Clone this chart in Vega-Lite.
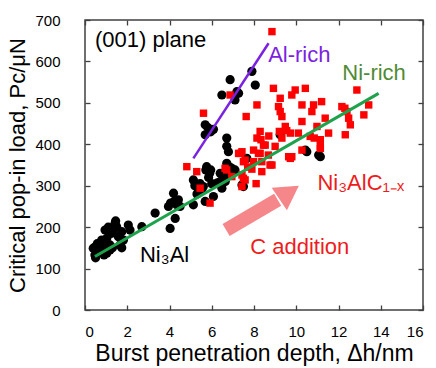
{
  "$schema": "https://vega.github.io/schema/vega-lite/v6.json",
  "width": 338,
  "height": 290,
  "autosize": {"type": "none"},
  "padding": {"left": 85, "top": 20, "right": 13, "bottom": 58},
  "config": {
    "font": "Liberation Sans",
    "view": {"stroke": "#404040", "strokeWidth": 1.5},
    "axis": {
      "grid": false, "domain": false, "tickSize": -5, "tickColor": "#404040", "tickWidth": 1.3,
      "labelFont": "Liberation Sans", "labelFontSize": 15, "labelColor": "#000000",
      "titleFont": "Liberation Sans", "titleFontSize": 22, "titleFontWeight": "normal", "titleColor": "#000000"
    }
  },
  "datasets": {
    "ni3al": [
      {"x":0.39,"y":149},{"x":0.47,"y":133},{"x":0.47,"y":152},{"x":0.5,"y":126},{"x":0.63,"y":141},{"x":0.79,"y":169},{"x":0.87,"y":153},{"x":0.95,"y":165},{"x":0.95,"y":193},{"x":1.03,"y":173},{"x":1.03,"y":137},{"x":1.18,"y":157},{"x":1.18,"y":145},{"x":1.26,"y":185},{"x":1.34,"y":193},{"x":1.42,"y":209},{"x":1.45,"y":215},{"x":1.5,"y":201},{"x":1.58,"y":177},{"x":1.66,"y":157},{"x":1.74,"y":189},{"x":1.74,"y":150},{"x":1.82,"y":169},{"x":2.05,"y":205},{"x":2.13,"y":193},{"x":0.58,"y":160},{"x":1.1,"y":200},{"x":1.3,"y":150},{"x":0.9,"y":133},
      {"x":2.69,"y":201},{"x":3.32,"y":234},{"x":3.95,"y":250},{"x":4.03,"y":197},{"x":4.19,"y":282},{"x":4.27,"y":221},{"x":4.34,"y":254},{"x":4.5,"y":250},{"x":4.42,"y":266},{"x":4.05,"y":258},{"x":4.22,"y":262},
      {"x":5.13,"y":254},{"x":5.13,"y":314},{"x":5.37,"y":290},{"x":5.45,"y":305},{"x":5.53,"y":290},{"x":5.69,"y":262},{"x":5.76,"y":346},{"x":5.72,"y":338},{"x":5.85,"y":320},{"x":5.9,"y":330},{"x":6.08,"y":274},{"x":5.95,"y":338},{"x":6.0,"y":305},{"x":6.24,"y":306},{"x":6.4,"y":310},{"x":6.4,"y":330},{"x":6.48,"y":294},{"x":6.55,"y":318},{"x":6.71,"y":326},{"x":6.71,"y":354},{"x":6.85,"y":345},{"x":7.1,"y":338},{"x":7.5,"y":298},{"x":7.43,"y":302},{"x":5.3,"y":280},{"x":5.6,"y":298},{"x":5.2,"y":300},{"x":6.64,"y":310},
      {"x":5.69,"y":423},{"x":5.95,"y":430},{"x":6.71,"y":415},{"x":6.79,"y":382},{"x":6.71,"y":395},{"x":5.69,"y":447},{"x":6.08,"y":436},{"x":5.82,"y":440},{"x":6.48,"y":519},{"x":6.87,"y":556},{"x":7.1,"y":507},{"x":7.19,"y":527},{"x":7.27,"y":523},{"x":7.9,"y":576},{"x":8.06,"y":543},{"x":6.95,"y":342},{"x":7.66,"y":366},
      {"x":9.24,"y":423},{"x":10.43,"y":386},{"x":10.5,"y":382},{"x":11.06,"y":374},{"x":11.14,"y":370}
    ],
    "ni3alc": [
      {"x":4.82,"y":346},{"x":5.29,"y":334},{"x":5.45,"y":294},{"x":5.92,"y":258},{"x":5.61,"y":475},{"x":6.87,"y":519},{"x":7.63,"y":467},{"x":6.63,"y":342},{"x":6.71,"y":338},{"x":6.95,"y":322},{"x":7.27,"y":378},{"x":7.35,"y":378},{"x":7.43,"y":382},{"x":7.43,"y":326},{"x":7.43,"y":298},{"x":7.5,"y":358},{"x":7.5,"y":318},{"x":7.58,"y":362},{"x":7.58,"y":314},{"x":7.98,"y":386},{"x":7.98,"y":358},{"x":8.14,"y":495},{"x":8.14,"y":415},{"x":8.21,"y":378},{"x":8.29,"y":431},{"x":8.33,"y":411},{"x":8.29,"y":378},{"x":8.37,"y":358},{"x":8.37,"y":334},{"x":8.45,"y":398},{"x":8.53,"y":398},{"x":8.68,"y":374},{"x":8.76,"y":350},{"x":8.85,"y":350},{"x":8.85,"y":672},{"x":8.92,"y":535},{"x":9.0,"y":395},{"x":9.16,"y":491},{"x":9.24,"y":511},{"x":9.24,"y":479},{"x":9.32,"y":467},{"x":9.32,"y":415},{"x":9.48,"y":443},{"x":9.55,"y":433},{"x":9.64,"y":370},{"x":9.72,"y":427},{"x":9.72,"y":366},{"x":9.79,"y":519},{"x":9.79,"y":370},{"x":9.95,"y":531},{"x":10.1,"y":427},{"x":10.27,"y":455},{"x":10.27,"y":386},{"x":10.27,"y":495},{"x":10.43,"y":535},{"x":10.66,"y":419},{"x":10.74,"y":479},{"x":10.82,"y":495},{"x":10.85,"y":415},{"x":10.98,"y":443},{"x":11.14,"y":395},{"x":11.14,"y":411},{"x":11.14,"y":390},{"x":11.2,"y":503},{"x":11.37,"y":463},{"x":11.53,"y":427},{"x":12.16,"y":491},{"x":12.3,"y":487},{"x":12.48,"y":463},{"x":12.4,"y":479},{"x":12.56,"y":447},{"x":12.32,"y":423},{"x":12.87,"y":531},{"x":13.2,"y":471},{"x":13.43,"y":495},{"x":7.9,"y":340},{"x":8.1,"y":305},{"x":9.2,"y":431},{"x":8.7,"y":420},{"x":7.7,"y":345}
    ]
  },
  "layer": [
    {
      "data": {"name": "ni3al"},
      "mark": {"type": "circle", "size": 85, "color": "#000000", "opacity": 1},
      "encoding": {
        "x": {"field": "x", "type": "quantitative", "scale": {"domain": [0, 16], "nice": false},
              "axis": {"values": [0,2,4,6,8,10,12,14,16], "title": "Burst penetration depth, Δh/nm", "labelPadding": 19, "titlePadding": 3, "titleFontSize": 23}},
        "y": {"field": "y", "type": "quantitative", "scale": {"domain": [0, 700], "nice": false},
              "axis": {"values": [0,100,200,300,400,500,600,700], "title": "Critical pop-in load, Pc/μN", "labelPadding": 30, "titlePadding": 5}}
      }
    },
    {
      "data": {"name": "ni3alc"},
      "mark": {"type": "square", "size": 55, "color": "#ff0000", "opacity": 1},
      "encoding": {
        "x": {"field": "x", "type": "quantitative", "axis": {"orient": "top", "values": [0,2,4,6,8,10,12,14,16], "labels": false, "title": null}},
        "y": {"field": "y", "type": "quantitative", "axis": {"orient": "right", "values": [0,100,200,300,400,500,600,700], "labels": false, "title": null}}
      }
    },
    {
      "data": {"values": [{"x": 5.13, "y": 366}, {"x": 8.69, "y": 644}]},
      "mark": {"type": "line", "color": "#7b22e0", "strokeWidth": 2.5},
      "encoding": {"x": {"field": "x", "type": "quantitative", "axis": null}, "y": {"field": "y", "type": "quantitative", "axis": null}}
    },
    {
      "data": {"values": [{"x": 0.47, "y": 129}, {"x": 13.9, "y": 523}]},
      "mark": {"type": "line", "color": "#1ea24c", "strokeWidth": 3},
      "encoding": {"x": {"field": "x", "type": "quantitative", "axis": null}, "y": {"field": "y", "type": "quantitative", "axis": null}}
    },
    {
      "data": {"values": [{"x": 6.68, "y": 193, "x2": 9.12, "y2": 266}]},
      "mark": {"type": "rule", "color": "#f5878b", "strokeWidth": 14, "strokeCap": "butt"},
      "encoding": {"x": {"field": "x", "type": "quantitative", "axis": null}, "y": {"field": "y", "type": "quantitative", "axis": null}, "x2": {"field": "x2"}, "y2": {"field": "y2"}}
    },
    {
      "data": {"values": [{"x": 9.66, "y": 284}]},
      "mark": {"type": "point", "shape": "triangle-up", "size": 740, "filled": true, "color": "#f5878b", "opacity": 1, "angle": 56},
      "encoding": {"x": {"field": "x", "type": "quantitative", "axis": null}, "y": {"field": "y", "type": "quantitative", "axis": null}}
    },
    {
      "data": {"values": [
        {"x": 0.47, "y": 652, "t": "(001) plane", "c": "black"},
        {"x": 8.67, "y": 616, "t": "Al-rich", "c": "purple"},
        {"x": 12.18, "y": 572, "t": "Ni-rich", "c": "green"},
        {"x": 11.0, "y": 307, "t": "Ni₃AlC₁₋ₓ", "c": "red"},
        {"x": 7.82, "y": 152, "t": "C addition", "c": "red"},
        {"x": 2.6, "y": 133, "t": "Ni₃Al", "c": "black"}
      ]},
      "mark": {"type": "text", "align": "left", "baseline": "middle", "fontSize": 22, "font": "Liberation Sans"},
      "encoding": {
        "x": {"field": "x", "type": "quantitative", "axis": null},
        "y": {"field": "y", "type": "quantitative", "axis": null},
        "text": {"field": "t"},
        "color": {"field": "c", "type": "nominal", "legend": null,
                  "scale": {"domain": ["black", "purple", "green", "red"], "range": ["#000000", "#7b22e0", "#4f8a35", "#ee1c1c"]}}
      }
    }
  ],
  "resolve": {"axis": {"x": "independent", "y": "independent"}}
}
